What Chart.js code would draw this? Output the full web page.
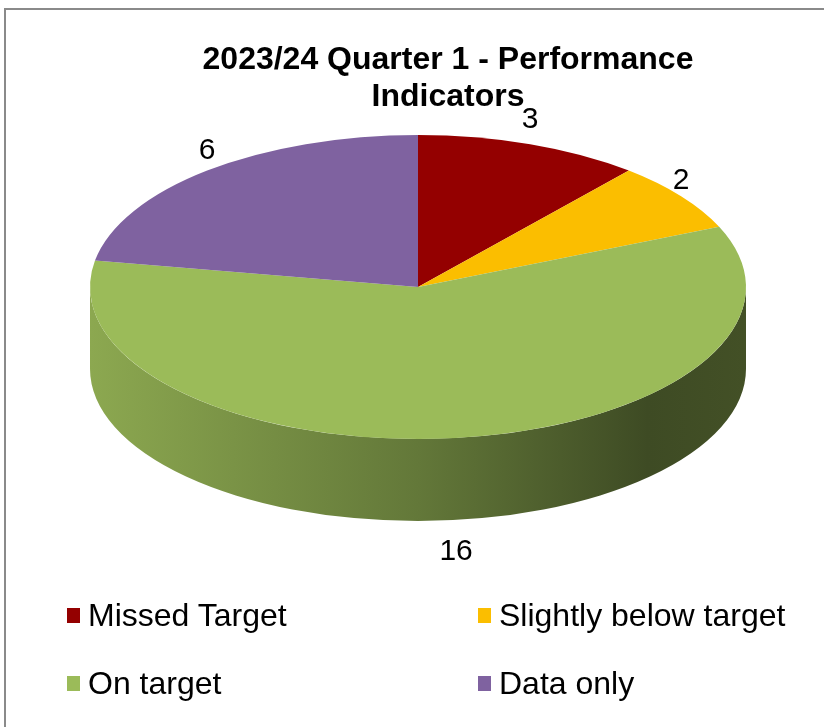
<!DOCTYPE html>
<html>
<head>
<meta charset="utf-8">
<script src="https://cdn.jsdelivr.net/npm/chart.js@4.4.1/dist/chart.umd.min.js"></script>
<style>
  html, body { margin: 0; padding: 0; background: #fff; width: 824px; height: 727px; overflow: hidden; }
  #frame { position: absolute; left: 4px; top: 8px; width: 884px; height: 760px; border-left: 2px solid #8a8a8a; border-top: 2px solid #8a8a8a; background: #fff; }
  #wrap { position: absolute; left: 6px; top: 10px; width: 884px; height: 717px; }
  #legend { position: absolute; left: 67px; top: 596px; width: 760px; display: grid; grid-template-columns: 411px 340px; row-gap: 30px;
            font-family: "Liberation Sans", Arial, sans-serif; font-size: 32px; color: #000; }
  .item { display: flex; align-items: center; height: 38px; white-space: nowrap; }
  .box { width: 13px; height: 15px; margin-right: 8px; flex: none; }
</style>
</head>
<body>
<div id="frame"></div>
<div id="wrap"><canvas id="c" width="884" height="717"></canvas></div>
<div id="legend"></div>
<script>
const categories = ["Missed Target", "Slightly below target", "On target", "Data only"];
const values = [3, 2, 16, 6];
const colors = ["#940000", "#FBBE00", "#9BBB59", "#7F62A0"];
const titleLines = ["2023/24 Quarter 1 - Performance", "Indicators"];

// Geometry of the tilted pie (canvas coords)
const GEO = { cx: 412, cy: 277, rx: 328, ry: 152, depth: 82 };

function hexToRgb(h) { h = h.replace('#',''); return [parseInt(h.substr(0,2),16), parseInt(h.substr(2,2),16), parseInt(h.substr(4,2),16)]; }
function shade(h, f) { const c = hexToRgb(h); return `rgb(${c.map(v => Math.round(v*f)).join(',')})`; }

const pie3d = {
  id: 'pie3d',
  beforeDatasetsDraw(chart) {
    const ctx = chart.ctx;
    const meta = chart.getDatasetMeta(0);
    const { cx, cy, rx, ry, depth } = GEO;
    // side walls (front half only)
    meta.data.forEach((arc, i) => {
      for (let k = -1; k <= 1; k++) {
        const s = arc.startAngle + 2*Math.PI*k, e = arc.endAngle + 2*Math.PI*k;
        const lo = Math.max(s, 0), hi = Math.min(e, Math.PI);
        if (hi <= lo) continue;
        const g = ctx.createLinearGradient(cx - rx, 0, cx + rx, 0);
        g.addColorStop(0, shade(colors[i], 0.90));
        g.addColorStop(0.5, shade(colors[i], 0.64));
        g.addColorStop(0.85, shade(colors[i], 0.40));
        g.addColorStop(1, shade(colors[i], 0.43));
        ctx.save();
        ctx.beginPath();
        ctx.ellipse(cx, cy, rx, ry, 0, lo, hi, false);
        ctx.lineTo(cx + rx*Math.cos(hi), cy + depth + ry*Math.sin(hi));
        ctx.ellipse(cx, cy + depth, rx, ry, 0, hi, lo, true);
        ctx.closePath();
        ctx.fillStyle = g;
        ctx.fill();
        ctx.restore();
      }
    });
    // squash the top face
    const a = meta.data[0];
    const R = a.outerRadius;
    ctx.save();
    ctx.translate(cx, cy);
    ctx.scale(rx / R, ry / R);
    ctx.translate(-a.x, -a.y);
  },
  afterDatasetsDraw(chart) {
    const ctx = chart.ctx;
    ctx.restore();
    const meta = chart.getDatasetMeta(0);
    const { cx, cy, rx, ry, depth } = GEO;
    ctx.save();
    ctx.font = '30px "Liberation Sans", Arial, sans-serif';
    ctx.fillStyle = '#000';
    ctx.textAlign = 'center';
    ctx.textBaseline = 'middle';
    meta.data.forEach((arc, i) => {
      const m = (arc.startAngle + arc.endAngle) / 2;
      const x = cx + rx * Math.cos(m) * 1.0;
      let y = cy + ry * Math.sin(m) * 1.17;
      if (Math.sin(m) > 0.5) y += depth + 6;
      ctx.fillText(String(values[i]), x, y);
    });
    ctx.restore();
  }
};

new Chart(document.getElementById('c'), {
  type: 'pie',
  data: {
    labels: categories,
    datasets: [{ data: values, backgroundColor: colors, borderWidth: 0, hoverOffset: 0 }]
  },
  options: {
    responsive: false,
    animation: false,
    events: [],
    layout: { padding: { top: 10, bottom: 150, left: 100, right: 100 } },
    plugins: {
      legend: { display: false },
      tooltip: { enabled: false },
      title: {
        display: true,
        text: titleLines,
        color: '#000',
        font: { family: '"Liberation Sans", Arial, sans-serif', size: 32, weight: 'bold', lineHeight: 1.15 },
        padding: { top: 22, bottom: 10 }
      }
    }
  },
  plugins: [pie3d]
});

const leg = document.getElementById('legend');
categories.forEach((c, i) => {
  const d = document.createElement('div');
  d.className = 'item';
  const b = document.createElement('span');
  b.className = 'box';
  b.style.background = colors[i];
  const t = document.createElement('span');
  t.textContent = c;
  d.appendChild(b); d.appendChild(t);
  leg.appendChild(d);
});
</script>
</body>
</html>
